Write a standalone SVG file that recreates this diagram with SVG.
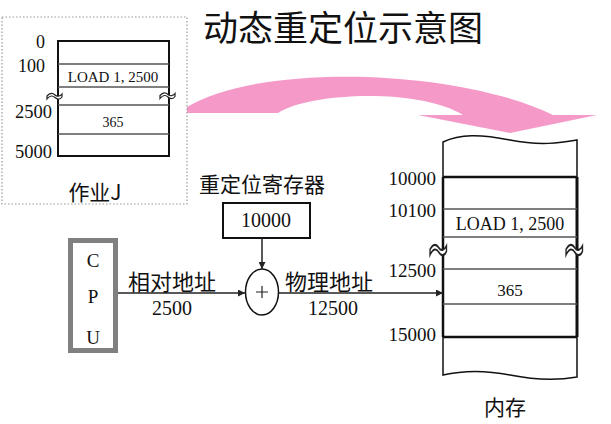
<svg xmlns="http://www.w3.org/2000/svg" width="611" height="424" viewBox="0 0 611 424">
<defs>
<style>
.s{font-family:"Liberation Serif","Noto Sans CJK SC",serif;fill:#111}
.c{font-family:"Noto Sans CJK SC",sans-serif;fill:#111}
.ln{stroke:#222;fill:none}
.th{stroke:#555;stroke-width:1.5;fill:none}
.tl{fill:#fff;stroke:#222;stroke-width:1.2}
</style>
<marker id="ah" viewBox="0 0 10 10" refX="10" refY="5" markerWidth="7" markerHeight="7" markerUnits="userSpaceOnUse" orient="auto"><path d="M0,0 L10,5 L0,10 z" fill="#222"/></marker>
<path id="tilde" d="M0,2.5 C3,-1 6,-0.5 8,1.5 C10,3.5 13,3 15,0.5 L15,3.5 C13,6.5 10,6 8,4 C6,2 3,1.5 0,5.5 Z"/>
</defs>
<rect width="611" height="424" fill="#fff"/>
<g id="arrow-big">
<path d="M187 107 C262 62 459 69 553 115 L597 115 L510 133 L418 115 L463 115 C420 88 310 92 278 113 L187 113 Z" fill="#F59AC8"/>
</g>
<g id="title"><text class="c" x="343" y="41" font-size="35" text-anchor="middle">动态重定位示意图</text></g>
<g id="jobJ">
<rect x="2" y="17" width="185" height="187" fill="none" stroke="#999" stroke-width="1.2" stroke-dasharray="1.5,2"/>
<rect x="58" y="41" width="111" height="115" fill="#fff" stroke="#111" stroke-width="2"/>
<line class="th" x1="58" y1="64" x2="169" y2="64"/>
<line class="th" x1="58" y1="87" x2="169" y2="87"/>
<line class="th" x1="58" y1="105" x2="169" y2="105"/>
<line class="th" x1="58" y1="134" x2="169" y2="134"/>
<text class="s" x="45" y="48" font-size="18" text-anchor="end">0</text>
<text class="s" x="45" y="72" font-size="18" text-anchor="end">100</text>
<text class="s" x="52" y="118" font-size="18.5" text-anchor="end">2500</text>
<text class="s" x="52" y="158" font-size="18.5" text-anchor="end">5000</text>
<text class="s" x="113" y="82" font-size="15" text-anchor="middle">LOAD 1, 2500</text>
<text class="s" x="113" y="127" font-size="14" text-anchor="middle">365</text>
<use href="#tilde" class="tl" transform="translate(47,93.5)"/>
<use href="#tilde" class="tl" transform="translate(160,93)"/>
<text class="c" x="95" y="200" font-size="21" text-anchor="middle">作业J</text>
</g>
<g id="cpu">
<rect x="70.5" y="240.5" width="45" height="110" fill="#fff" stroke="#808080" stroke-width="5"/>
<text class="s" x="93" y="267" font-size="19" text-anchor="middle">C</text>
<text class="s" x="93" y="303" font-size="19" text-anchor="middle">P</text>
<text class="s" x="93" y="344" font-size="19" text-anchor="middle">U</text>
</g>
<g id="register">
<text class="c" x="262" y="192" font-size="21" text-anchor="middle">重定位寄存器</text>
<rect x="223" y="203" width="87" height="35" fill="#fff" stroke="#111" stroke-width="2"/>
<text class="s" x="266" y="227" font-size="20" text-anchor="middle">10000</text>
</g>
<g id="adder">
<ellipse cx="262" cy="292" rx="16.5" ry="23" fill="#fff" stroke="#111" stroke-width="1.5"/>
<path d="M256 292 H268 M262 286 V298" stroke="#222" stroke-width="1.2"/>
</g>
<g id="memory">
<path d="M443 142 C460 134 480 134 510 140 C540 146 560 143 577 140 L577 377 C560 380 540 381 510 375 C480 369 460 371 443 375 Z" fill="#fff" stroke="#111" stroke-width="1.5"/>
<line x1="443" y1="177" x2="443" y2="337" stroke="#111" stroke-width="2.5"/>
<line x1="577" y1="177" x2="577" y2="337" stroke="#111" stroke-width="3"/>
<line x1="443" y1="177" x2="577" y2="177" stroke="#111" stroke-width="2.5"/>
<line class="th" x1="443" y1="209" x2="577" y2="209"/>
<line class="th" x1="443" y1="237" x2="577" y2="237"/>
<line class="th" x1="443" y1="269" x2="577" y2="269"/>
<line class="th" x1="443" y1="304" x2="577" y2="304"/>
<line x1="443" y1="337" x2="577" y2="337" stroke="#111" stroke-width="2.5"/>
<text class="s" x="436" y="185" font-size="19" text-anchor="end">10000</text>
<text class="s" x="436" y="217" font-size="19" text-anchor="end">10100</text>
<text class="s" x="436" y="277" font-size="19" text-anchor="end">12500</text>
<text class="s" x="436" y="341" font-size="19" text-anchor="end">15000</text>
<text class="s" x="510" y="230" font-size="18" text-anchor="middle">LOAD 1, 2500</text>
<text class="s" x="510" y="296" font-size="17" text-anchor="middle">365</text>
<use href="#tilde" class="tl" transform="translate(430,245) scale(1.1,1.8)"/>
<use href="#tilde" class="tl" transform="translate(566,245) scale(1.1,1.8)"/>
<text class="c" x="505" y="415" font-size="21" text-anchor="middle">内存</text>
</g>
<g id="connectors">
<line class="ln" x1="118" y1="293" x2="245" y2="293" stroke-width="1.5" marker-end="url(#ah)"/>
<line class="ln" x1="262" y1="238" x2="262" y2="269" stroke-width="1.5" marker-end="url(#ah)"/>
<line class="ln" x1="278.5" y1="293" x2="443" y2="293" stroke-width="1.5" marker-end="url(#ah)"/>
<text class="c" x="172" y="290" font-size="22" text-anchor="middle">相对地址</text>
<text class="s" x="172" y="315" font-size="20" text-anchor="middle">2500</text>
<text class="c" x="329" y="290" font-size="22" text-anchor="middle">物理地址</text>
<text class="s" x="333" y="315" font-size="20" text-anchor="middle">12500</text>
</g>
</svg>
